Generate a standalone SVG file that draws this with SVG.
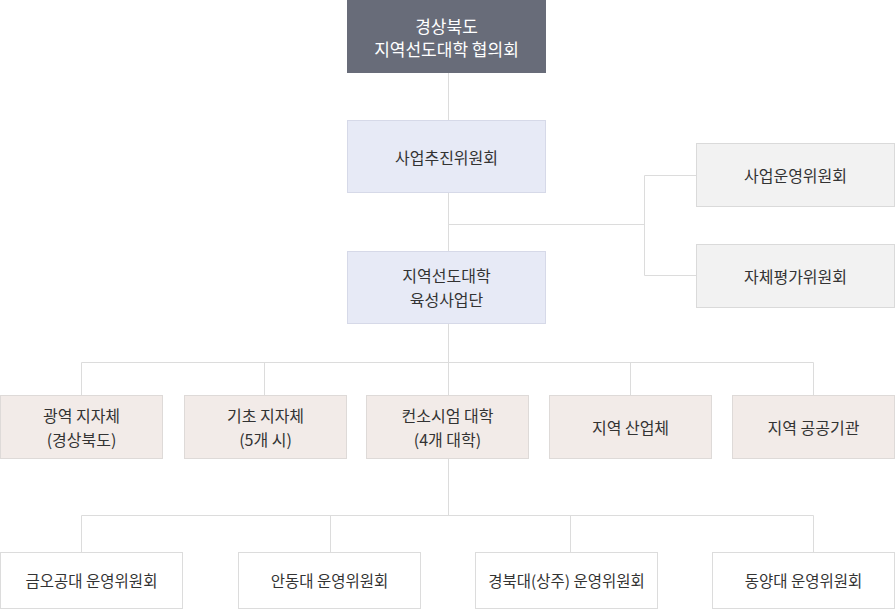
<svg xmlns="http://www.w3.org/2000/svg" width="895" height="609" viewBox="0 0 895 609">
<style>
text{font-family:"Noto Sans CJK KR","Noto Sans",sans-serif;font-size:16px;fill:#333;text-anchor:middle;dominant-baseline:central}
.top text{fill:#fff;font-size:17px}
.white text{font-size:15.5px}
.blue rect{fill:#e7eaf6;stroke:#d6d9e8}
.gray rect{fill:#f2f2f2;stroke:#dadada}
.pink rect{fill:#f2ebe8;stroke:#dedad8}
.white rect{fill:#fff;stroke:#dcdcdc}
.conn path{fill:none;stroke:#dcdcdc;stroke-width:1}
</style>
<g class="conn">
<path d="M448.5 73V251"/>
<path d="M448.5 224.5H644.5M644.5 175.5V275.5M644.5 175.5H696M644.5 275.5H696"/>
<path d="M448.5 324V395M81.5 362.5H813.5M81.5 362.5V395M264.5 362.5V395M630.5 362.5V395M813.5 362.5V395"/>
<path d="M448.5 459V515.5M81.5 515.5H813.5M81.5 515.5V552M330.5 515.5V552M570.5 515.5V552M813.5 515.5V552"/>
</g>
<g id="n-top" class="top"><rect x="347" y="0" width="199" height="73" fill="#686c79"/><text x="446.5" y="25">경상북도</text><text x="446.5" y="48.5">지역선도대학 협의회</text></g>
<g id="n-promo" class="blue"><rect x="347.5" y="120.5" width="198" height="72"/><text x="446.5" y="157">사업추진위원회</text></g>
<g id="n-ops" class="gray"><rect x="696.5" y="143.5" width="198" height="63"/><text x="795.5" y="175">사업운영위원회</text></g>
<g id="n-eval" class="gray"><rect x="696.5" y="244.5" width="198" height="63"/><text x="795.5" y="276">자체평가위원회</text></g>
<g id="n-group" class="blue"><rect x="347.5" y="251.5" width="198" height="72"/><text x="446.5" y="275">지역선도대학</text><text x="446.5" y="298.5">육성사업단</text></g>
<g id="n-r1" class="pink"><rect x="0.5" y="395.5" width="162" height="63"/><text x="81.5" y="415">광역 지자체</text><text x="81.5" y="438.5">(경상북도)</text></g>
<g id="n-r2" class="pink"><rect x="184.5" y="395.5" width="162" height="63"/><text x="265.5" y="415">기초 지자체</text><text x="265.5" y="438.5">(5개 시)</text></g>
<g id="n-r3" class="pink"><rect x="366.5" y="395.5" width="162" height="63"/><text x="447.5" y="415">컨소시엄 대학</text><text x="447.5" y="438.5">(4개 대학)</text></g>
<g id="n-r4" class="pink"><rect x="549.5" y="395.5" width="162" height="63"/><text x="630.5" y="427">지역 산업체</text></g>
<g id="n-r5" class="pink"><rect x="732.5" y="395.5" width="162" height="63"/><text x="813.5" y="427">지역 공공기관</text></g>
<g id="n-u1" class="white"><rect x="0.5" y="552.5" width="182" height="56"/><text x="91.5" y="580">금오공대 운영위원회</text></g>
<g id="n-u2" class="white"><rect x="238.5" y="552.5" width="182" height="56"/><text x="329.5" y="580">안동대 운영위원회</text></g>
<g id="n-u3" class="white"><rect x="475.5" y="552.5" width="182" height="56"/><text x="566.5" y="580">경북대(상주) 운영위원회</text></g>
<g id="n-u4" class="white"><rect x="712.5" y="552.5" width="182" height="56"/><text x="803.5" y="580">동양대 운영위원회</text></g>
</svg>
